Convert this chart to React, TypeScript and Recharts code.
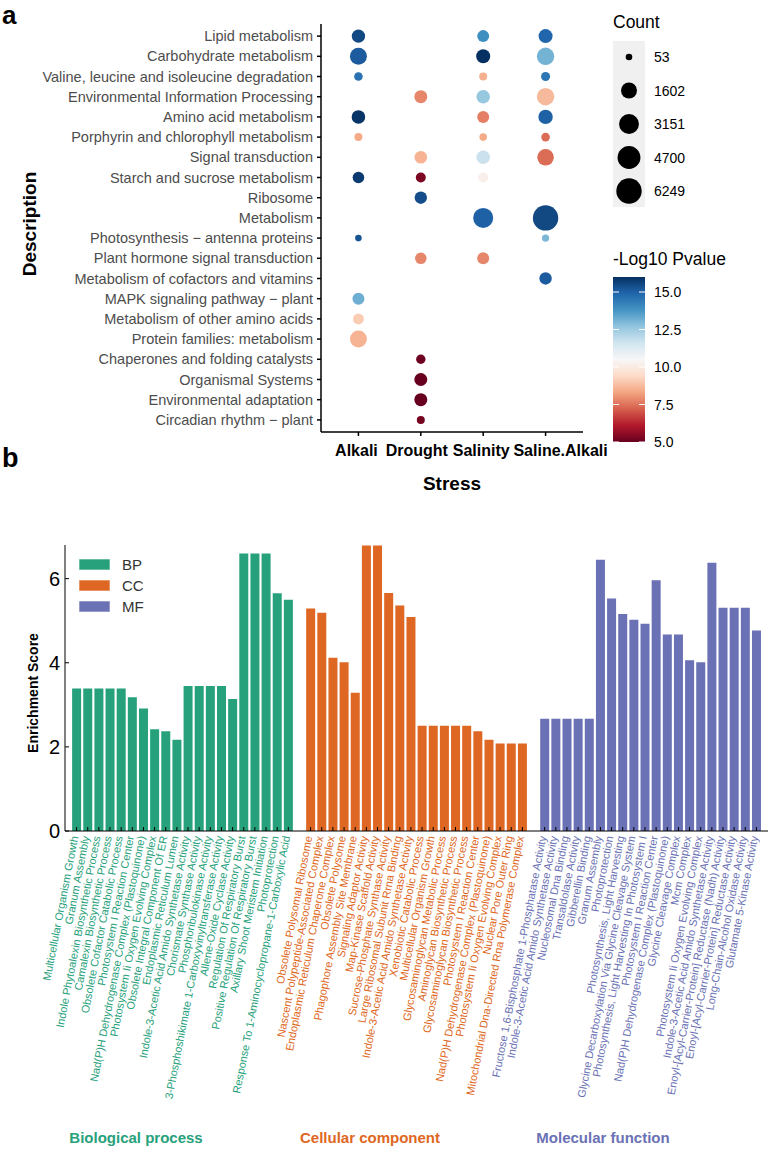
import React from 'react'
import { ScatterChart, Scatter, BarChart, Bar, Cell, XAxis, YAxis } from 'recharts'

const FONT = '"Liberation Sans", Arial, Helvetica, sans-serif'

// ---------- panel a: KEGG bubble plot ----------
const descriptions = [
  'Lipid metabolism',
  'Carbohydrate metabolism',
  'Valine, leucine and isoleucine degradation',
  'Environmental Information Processing',
  'Amino acid metabolism',
  'Porphyrin and chlorophyll metabolism',
  'Signal transduction',
  'Starch and sucrose metabolism',
  'Ribosome',
  'Metabolism',
  'Photosynthesis \u2212 antenna proteins',
  'Plant hormone signal transduction',
  'Metabolism of cofactors and vitamins',
  'MAPK signaling pathway \u2212 plant',
  'Metabolism of other amino acids',
  'Protein families: metabolism',
  'Chaperones and folding catalysts',
  'Organismal Systems',
  'Environmental adaptation',
  'Circadian rhythm \u2212 plant',
]
const stresses = ['Alkali', 'Drought', 'Salinity', 'Saline.Alkali']
// the last stress label sits a little right of its tick in the original
const stressLabelShift = [-2, -4, -2, 15]

type N = number | null
const alkaliCount: N[] = [863, 1949, 123, null, 900, 87, null, 490, null, null, 53, null, null, 564, 392, 1949, null, null, null, null]
const alkaliLogP: N[] = [15.5, 15.1, 14.6, null, 15.9, 8.4, null, 15.8, null, null, 15.3, null, null, 13.2, 9.1, 8.6, null, null, null, null]
const droughtCount: N[] = [null, null, null, 771, null, null, 680, 256, 640, null, null, 490, null, null, null, null, 190, 771, 771, 87]
const droughtLogP: N[] = [null, null, null, 7.8, null, null, 8.6, 5.3, 15.4, null, null, 7.8, null, null, null, null, 5.1, 5.0, 5.0, 5.2]
const salinityCount: N[] = [564, 1013, 87, 900, 564, 70, 900, 256, null, 3201, null, 564, null, null, null, null, null, null, null, null]
const salinityLogP: N[] = [13.9, 16.0, 8.5, 12.6, 7.7, 8.4, 11.7, 10.2, null, 15.0, null, 7.8, null, null, null, null, null, null, null, null]
const salineAlkaliCount: N[] = [1013, 2100, 154, 2100, 1120, 123, 1806, null, null, 6249, 60, null, 640, null, null, null, null, null, null, null]
const salineAlkaliLogP: N[] = [14.9, 13.1, 14.5, 8.7, 15.0, 7.4, 7.4, null, null, 15.5, 13.0, null, 15.1, null, null, null, null, null, null, null]

const countBreaks = [53, 1602, 3151, 4700, 6249]
const pvalueTicks = [15.0, 12.5, 10.0, 7.5, 5.0]

const rdbu = ['#67001f', '#b2182b', '#d6604d', '#f4a582', '#fddbc7', '#f7f7f7', '#d1e5f0', '#92c5de', '#4393c3', '#2166ac', '#053061']
const P_MIN = 5
const P_MAX = 16
const C_MIN = 53
const C_MAX = 6249
const R_MIN = 3.3
const R_MAX = 12.7

const hex = (c: string) => [1, 3, 5].map((i) => parseInt(c.slice(i, i + 2), 16))

function pColor(v: number) {
  const t = Math.min(1, Math.max(0, (v - P_MIN) / (P_MAX - P_MIN))) * (rdbu.length - 1)
  const i = Math.min(Math.floor(t), rdbu.length - 2)
  const f = t - i
  const a = hex(rdbu[i])
  const b = hex(rdbu[i + 1])
  const m = a.map((x, k) => Math.round(x + (b[k] - x) * f))
  return `rgb(${m[0]},${m[1]},${m[2]})`
}

// ggplot-style area scale: radius grows with sqrt of rescaled count
function radius(count: number) {
  const t = Math.max(0, (count - C_MIN) / (C_MAX - C_MIN))
  return R_MIN + Math.sqrt(t) * (R_MAX - R_MIN)
}

const countsByStress = [alkaliCount, droughtCount, salinityCount, salineAlkaliCount]
const logPByStress = [alkaliLogP, droughtLogP, salinityLogP, salineAlkaliLogP]

const bubbles = countsByStress.flatMap((counts, s) =>
  counts
    .map((c, i) => (c == null ? null : { x: s + 1, y: i + 1, count: c, logp: logPByStress[s][i] as number }))
    .filter(Boolean)
) as { x: number; y: number; count: number; logp: number }[]

const Bubble = (props: any) => {
  const { cx, cy, payload } = props
  if (cx == null || cy == null) return null
  return <circle cx={cx} cy={cy} r={radius(payload.count)} fill={pColor(payload.logp)} />
}

const StressTick = (props: any) => {
  const { x, y, payload } = props
  const i = payload.value - 1
  return (
    <text x={x + (stressLabelShift[i] || 0)} y={y} dy="0.71em" textAnchor="middle" fontSize={16} fontWeight="bold" fill="#000">
      {stresses[i]}
    </text>
  )
}

// ---------- panel b: GO enrichment bars ----------
const bpTerms = [
  'Multicellular Organism Growth',
  'Granum Assembly',
  'Indole Phytoalexin Biosynthetic Process',
  'Camalexin Biosynthetic Process',
  'Obsolete Cofactor Catabolic Process',
  'Photosystem I Reaction Center',
  'Nad(P)H Dehydrogenase Complex (Plastoquinone)',
  'Photosystem Ii Oxygen Evolving Complex',
  'Obsolete Integral Component Of ER',
  'Endoplasmic Reticulum Lumen',
  'Indole-3-Acetic Acid Amido Synthetase Activity',
  'Chorismate Synthase Activity',
  'Phosphoribulokinase Activity',
  '3-Phosphoshikimate 1-Carboxyvinyltransferase Activity',
  'Allene-Oxide Cyclase Activity',
  'Regulation Of Respiratory Burst',
  'Positive Regulation Of Respiratory Burst',
  'Axillary Shoot Meristem Initiation',
  'Photoprotection',
  'Response To 1-Aminocyclopropane-1-Carboxylic Acid',
]
const bpScores = [3.39, 3.39, 3.39, 3.39, 3.39, 3.18, 2.91, 2.42, 2.37, 2.17, 3.45, 3.45, 3.45, 3.45, 3.14, 6.6, 6.6, 6.6, 5.65, 5.5]

const ccTerms = [
  'Obsolete Polysomal Ribosome',
  'Nascent Polypeptide-Associated Complex',
  'Endoplasmic Reticulum Chaperone Complex',
  'Obsolete Polysome',
  'Phagophore Assembly Site Membrane',
  'Signaling Adaptor Activity',
  'Map-Kinase Scaffold Activity',
  'Sucrose-Phosphate Synthase Activity',
  'Large Ribosomal Subunit Rrna Binding',
  'Indole-3-Acetic Acid Amido Synthetase Activity',
  'Xenobiotic Catabolic Process',
  'Multicellular Organism Growth',
  'Glycosaminoglycan Metabolic Process',
  'Aminoglycan Biosynthetic Process',
  'Glycosaminoglycan Biosynthetic Process',
  'Photosystem I Reaction Center',
  'Nad(P)H Dehydrogenase Complex (Plastoquinone)',
  'Photosystem Ii Oxygen Evolving Complex',
  'Nuclear Pore Outer Ring',
  'Mitochondrial Dna-Directed Rna Polymerase Complex',
]
const ccScores = [5.29, 5.19, 4.12, 4.01, 3.29, 6.79, 6.79, 5.66, 5.36, 5.09, 2.5, 2.5, 2.5, 2.5, 2.5, 2.37, 2.17, 2.08, 2.08, 2.08]

const mfTerms = [
  'Fructose 1,6-Bisphosphate 1-Phosphatase Activity',
  'Indole-3-Acetic Acid Amido Synthetase Activity',
  'Nucleosomal Dna Binding',
  'Transaldolase Activity',
  'Gibberellin Binding',
  'Granum Assembly',
  'Photoprotection',
  'Photosynthesis, Light Harvesting',
  'Glycine Decarboxylation Via Glycine Cleavage System',
  'Photosynthesis, Light Harvesting In Photosystem I',
  'Photosystem I Reaction Center',
  'Nad(P)H Dehydrogenase Complex (Plastoquinone)',
  'Glycine Cleavage Complex',
  'Mcm Complex',
  'Photosystem Ii Oxygen Evolving Complex',
  'Indole-3-Acetic Acid Amido Synthetase Activity',
  'Enoyl-[Acyl-Carrier-Protein] Reductase (Nadh) Activity',
  'Enoyl-[Acyl-Carrier-Protein] Reductase Activity',
  'Long-Chain-Alcohol Oxidase Activity',
  'Glutamate 5-Kinase Activity',
]
const mfScores = [2.67, 2.67, 2.67, 2.67, 2.67, 6.45, 5.53, 5.16, 5.02, 4.93, 5.96, 4.67, 4.67, 4.06, 4.01, 6.38, 5.31, 5.31, 5.31, 4.77]

const groupColor: Record<string, string> = { BP: '#27a17b', CC: '#de6723', MF: '#6a71b4' }

type Row = { key: string; label: string; group: string; score: number | null }
const goRows: Row[] = [
  ...bpTerms.map((t, i) => ({ key: `BP${i}`, label: t, group: 'BP', score: bpScores[i] })),
  { key: 'gap1', label: '', group: '', score: null },
  ...ccTerms.map((t, i) => ({ key: `CC${i}`, label: t, group: 'CC', score: ccScores[i] })),
  { key: 'gap2', label: '', group: '', score: null },
  ...mfTerms.map((t, i) => ({ key: `MF${i}`, label: t, group: 'MF', score: mfScores[i] })),
]
const rowByKey = new Map(goRows.map((r) => [r.key, r]))

const GoTick = (props: any) => {
  const { x, y, payload } = props
  const row = rowByKey.get(payload.value)
  if (!row || !row.group) return null
  const tx = x - 2
  const ty = y + 5
  return (
    <g>
      <line x1={x} y1={y} x2={x} y2={y - 4} stroke="#000" strokeWidth={1} />
      <text
        x={tx}
        y={ty}
        dy="0.35em"
        textAnchor="end"
        transform={`rotate(-79, ${tx}, ${ty})`}
        fontSize={11}
        fill={groupColor[row.group]}
      >
        {row.label}
      </text>
    </g>
  )
}

export default function App() {
  const cbTop = 277
  const cbH = 165
  const cbY = (v: number) => cbTop + ((P_MAX - v) / (P_MAX - P_MIN)) * cbH

  return (
    <div style={{ position: 'relative', width: 770, height: 1150, background: '#fff', fontFamily: FONT, overflow: 'hidden' }}>
      <style>{'body{margin:0}'}</style>

      <div style={{ position: 'absolute', left: 0, top: 0 }}>
        <ScatterChart width={620} height={500} margin={{ top: 24, right: 37, left: 0, bottom: 38 }}>
          <XAxis
            type="number"
            dataKey="x"
            domain={[0.4, 4.6]}
            ticks={[1, 2, 3, 4]}
            allowDataOverflow
            height={30}
            interval={0}
            stroke="#000"
            strokeWidth={1.5}
            tickSize={4}
            tickMargin={9}
            tick={<StressTick />}
          />
          <YAxis
            type="number"
            dataKey="y"
            domain={[0.4, 20.6]}
            reversed
            ticks={descriptions.map((_, i) => i + 1)}
            tickFormatter={(v) => descriptions[v - 1]}
            allowDataOverflow
            width={321}
            interval={0}
            stroke="#000"
            strokeWidth={1.5}
            tickSize={4}
            tickMargin={4}
            tick={{ fill: '#4d4d4d', fontSize: 14.5 }}
          />
          <Scatter data={bubbles} shape={Bubble} isAnimationActive={false} />
        </ScatterChart>
      </div>

      <div style={{ position: 'absolute', left: 0, top: 500 }}>
        <BarChart
          width={770}
          height={650}
          data={goRows}
          margin={{ top: 45, right: 2, left: 0, bottom: 0 }}
          barCategoryGap="10%"
        >
          <XAxis
            dataKey="key"
            interval={0}
            height={319}
            padding={{ left: 6, right: 6 }}
            stroke="#000"
            tickLine={false}
            tickSize={0}
            tickMargin={0}
            tick={<GoTick />}
          />
          <YAxis
            domain={[0, 6.8]}
            ticks={[0, 2, 4, 6]}
            width={65}
            stroke="#000"
            tickSize={-4}
            tickMargin={9}
            tick={{ fill: '#000', fontSize: 20 }}
          />
          <Bar dataKey="score" isAnimationActive={false}>
            {goRows.map((r) => (
              <Cell key={r.key} fill={groupColor[r.group] || 'none'} />
            ))}
          </Bar>
        </BarChart>
      </div>

      <svg width={770} height={1150} style={{ position: 'absolute', left: 0, top: 0, pointerEvents: 'none' }}>
        <defs>
          <linearGradient id="rdbu" x1="0" y1="1" x2="0" y2="0">
            {rdbu.map((c, k) => (
              <stop key={c} offset={`${(k / (rdbu.length - 1)) * 100}%`} stopColor={c} />
            ))}
          </linearGradient>
        </defs>

        <text x={2} y={24} fontSize={26} fontWeight="bold">a</text>
        <text x={2} y={467} fontSize={27} fontWeight="bold">b</text>

        <text x={29} y={224} fontSize={19} fontWeight="bold" textAnchor="middle" dominantBaseline="central" transform="rotate(-90, 29, 224)">
          Description
        </text>
        <text x={452} y={490} fontSize={19} fontWeight="bold" textAnchor="middle">Stress</text>

        <text x={613} y={28} fontSize={17.5}>Count</text>
        <rect x={613} y={41} width={32} height={166} fill="#f0f0f0" />
        {countBreaks.map((c, i) => (
          <g key={c}>
            <circle cx={629} cy={57 + i * 33.5} r={radius(c)} fill="#000" />
            <text x={654} y={57 + i * 33.5} fontSize={14} dominantBaseline="central">{c}</text>
          </g>
        ))}

        <text x={613} y={265} fontSize={17.5}>-Log10 Pvalue</text>
        <rect x={613} y={cbTop} width={32} height={cbH} fill="url(#rdbu)" />
        {pvalueTicks.map((v) => (
          <g key={v}>
            <line x1={613} x2={619} y1={cbY(v)} y2={cbY(v)} stroke="#fff" strokeWidth={1} />
            <line x1={639} x2={645} y1={cbY(v)} y2={cbY(v)} stroke="#fff" strokeWidth={1} />
            <text x={654} y={cbY(v)} fontSize={14} dominantBaseline="central">{v.toFixed(1)}</text>
          </g>
        ))}

        <text x={33} y={693} fontSize={14} fontWeight="bold" textAnchor="middle" dominantBaseline="central" transform="rotate(-90, 33, 693)">
          Enrichment Score
        </text>
        {['BP', 'CC', 'MF'].map((g, i) => (
          <g key={g}>
            <rect x={79} y={559 + i * 21} width={31} height={11} fill={groupColor[g]} stroke="#ffffff" strokeOpacity={0.6} />
            <text x={122} y={564.5 + i * 21} fontSize={15} fill="#333" dominantBaseline="central">{g}</text>
          </g>
        ))}

        <text x={136} y={1143} fontSize={15} fontWeight="bold" fill={groupColor.BP} textAnchor="middle">Biological process</text>
        <text x={370} y={1143} fontSize={15} fontWeight="bold" fill={groupColor.CC} textAnchor="middle">Cellular component</text>
        <text x={603} y={1143} fontSize={15} fontWeight="bold" fill={groupColor.MF} textAnchor="middle">Molecular function</text>
      </svg>
    </div>
  )
}
